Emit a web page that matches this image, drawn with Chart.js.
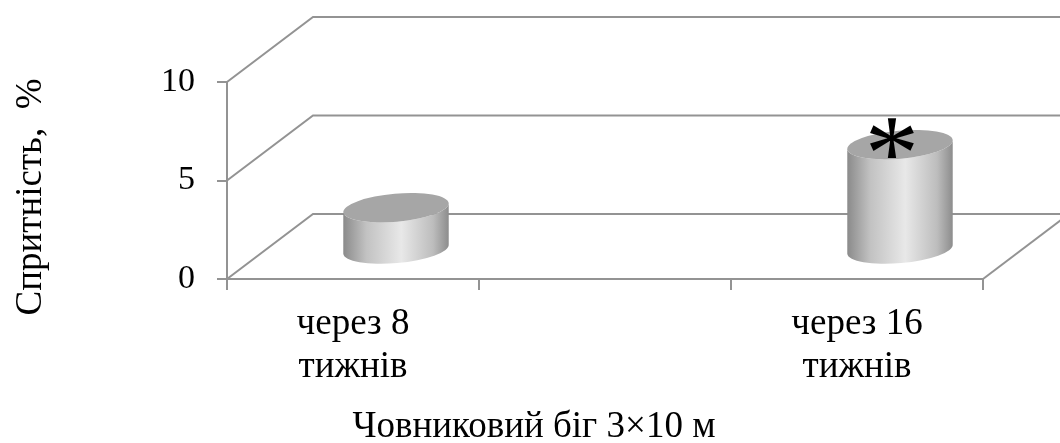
<!DOCTYPE html>
<html lang="uk">
<head>
<meta charset="UTF-8">
<title>Спритність</title>
<script src="https://cdn.jsdelivr.net/npm/chart.js"></script>
<style>
  html, body { margin: 0; padding: 0; background: #fff; }
  #wrap { width: 1060px; height: 443px; position: relative; }
</style>
</head>
<body>
<div id="wrap"><canvas id="chart"></canvas></div>
<script>
// chart data
const categories = [["через 8", "тижнів"], "", ["через 16", "тижнів"]];
const values = [2.1, null, 5.3];
const markLabels = ["", "", "*"];
const yTicks = [0, 5, 10];
const xTitle = "Човниковий біг 3×10 м";
const yTitle = "Спритність,  %";

const FONT = "'Liberation Serif', 'Times New Roman', serif";
const LINE = "#939393";
const DX = 86, DY = -65; // depth of the 3d box

// walls and gridlines of the 3d box
const walls = {
  id: "walls",
  beforeDatasetsDraw(chart) {
    const { ctx, chartArea } = chart;
    const ys = chart.scales.y;
    ctx.save();
    ctx.strokeStyle = LINE;
    ctx.lineWidth = 2;
    yTicks.forEach((v) => {
      const py = ys.getPixelForValue(v);
      ctx.beginPath();
      ctx.moveTo(chartArea.left, py);
      ctx.lineTo(chartArea.left + DX, py + DY);
      ctx.lineTo(chartArea.right + DX + 40, py + DY);
      ctx.stroke();
    });
    const y0 = ys.getPixelForValue(0);
    ctx.beginPath();
    ctx.moveTo(chartArea.right, y0);
    ctx.lineTo(chartArea.right + DX, y0 + DY);
    ctx.stroke();
    ctx.restore();
  },
};

// cylinders and the "*" mark
const cylinders = {
  id: "cylinders",
  afterDatasetsDraw(chart) {
    const { ctx } = chart;
    const xs = chart.scales.x, ys = chart.scales.y;
    const catW = xs.getPixelForValue(1) - xs.getPixelForValue(0);
    const a = catW * 0.21, b = 14, rot = -5 * Math.PI / 180;
    values.forEach((v, i) => {
      if (v === null) return;
      const cx = xs.getPixelForValue(i) + DX / 2;
      const y0 = ys.getPixelForValue(0);
      const by = y0 + DY * 0.46;
      const ty = by - (y0 - ys.getPixelForValue(v));
      const sx = a * Math.cos(rot), sy = a * Math.sin(rot);

      const g = ctx.createLinearGradient(cx - a, 0, cx + a, 0);
      g.addColorStop(0, "#8a8a8a");
      g.addColorStop(0.22, "#c2c2c2");
      g.addColorStop(0.55, "#e8e8e8");
      g.addColorStop(0.85, "#bdbdbd");
      g.addColorStop(1, "#8c8c8c");

      ctx.save();
      ctx.beginPath();
      ctx.moveTo(cx - sx, ty - sy);
      ctx.lineTo(cx - sx, by - sy);
      ctx.ellipse(cx, by, a, b, rot, Math.PI, 0, true);
      ctx.lineTo(cx + sx, ty + sy);
      ctx.ellipse(cx, ty, a, b, rot, 0, Math.PI, false);
      ctx.closePath();
      ctx.fillStyle = g;
      ctx.fill();

      ctx.beginPath();
      ctx.ellipse(cx, ty, a, b, rot, 0, Math.PI * 2);
      ctx.fillStyle = "#a6a6a6";
      ctx.fill();

      if (markLabels[i]) {
        ctx.font = "90px " + FONT;
        const m = ctx.measureText(markLabels[i]);
        const h = m.actualBoundingBoxAscent + m.actualBoundingBoxDescent;
        const fs = 90 * 41 / h;
        ctx.font = fs + "px " + FONT;
        const m2 = ctx.measureText(markLabels[i]);
        const mid = (m2.actualBoundingBoxAscent - m2.actualBoundingBoxDescent) / 2;
        ctx.fillStyle = "#000";
        ctx.textAlign = "center";
        ctx.textBaseline = "alphabetic";
        ctx.fillText(markLabels[i], cx - 8, ty - 7 + mid);
      }
      ctx.restore();
    });
  },
};

// axis titles
const titles = {
  id: "titles",
  afterDraw(chart) {
    const { ctx } = chart;
    ctx.save();
    ctx.fillStyle = "#000";
    ctx.font = "37px " + FONT;
    ctx.textAlign = "center";
    ctx.textBaseline = "alphabetic";
    ctx.fillText(xTitle, 534, 437);
    ctx.translate(41, 197);
    ctx.rotate(-Math.PI / 2);
    ctx.fillText(yTitle, 0, 0);
    ctx.restore();
  },
};

new Chart(document.getElementById("chart"), {
  type: "bar",
  data: {
    labels: categories,
    datasets: [{
      data: values,
      backgroundColor: "rgba(0,0,0,0)",
      borderWidth: 0,
    }],
  },
  options: {
    responsive: true,
    maintainAspectRatio: false,
    animation: false,
    events: [],
    layout: { padding: { top: 82, right: 77, bottom: 0, left: 0 } },
    plugins: { legend: { display: false }, tooltip: { enabled: false } },
    scales: {
      x: {
        offset: true,
        afterFit(s) { s.height = 164; },
        grid: { offset: true, drawOnChartArea: false, color: LINE, lineWidth: 2, tickLength: 11 },
        border: { color: LINE, width: 2 },
        ticks: {
          color: "#000",
          padding: 13,
          maxRotation: 0,
          autoSkip: false,
          font: { family: FONT, size: 37, lineHeight: 1.15 },
        },
      },
      y: {
        min: 0,
        max: 10,
        afterFit(s) { s.width = 227; },
        afterBuildTicks(s) { s.ticks = yTicks.map((v) => ({ value: v })); },
        grid: { drawOnChartArea: false, color: LINE, lineWidth: 2, tickLength: 10 },
        border: { color: LINE, width: 2 },
        ticks: {
          color: "#000",
          padding: 22,
          font: { family: FONT, size: 34 },
        },
      },
    },
  },
  plugins: [walls, cylinders, titles],
});
</script>
</body>
</html>
